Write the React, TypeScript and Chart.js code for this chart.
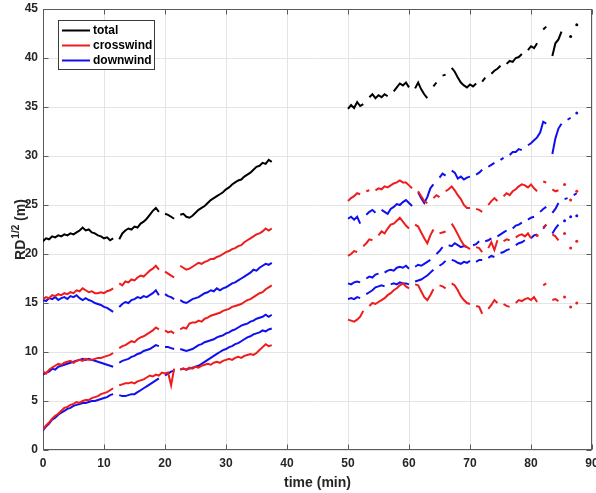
import React, { useEffect, useRef } from 'react';
import { Chart, registerables } from 'chart.js';

Chart.register(...registerables);

const FONT = '"Liberation Sans", Arial, Helvetica, sans-serif';

const xTicks = [0, 10, 20, 30, 40, 50, 60, 70, 80, 90];
const yTicks = [0, 5, 10, 15, 20, 25, 30, 35, 40, 45];
const legendLabels = ['total', 'crosswind', 'downwind'];
const xTitle = 'time (min)';

const timeLeft = [0,0.5,1,1.5,2,2.5,3,3.5,4,4.5,5,5.5,6,6.5,7,7.5,8,8.5,9,9.5,10,10.5,11,11.5,12,12.5,13,13.5,14,14.5,15,15.5,16,16.5,17,17.5,18,18.5,19,19.5,20,20.5,21,21.5,22,22.5,23,23.5,24,24.5,25,25.5,26,26.5,27,27.5,28,28.5,29,29.5,30,30.5,31,31.5,32,32.5,33,33.5,34,34.5,35,35.5,36,36.5,37,37.5];
const timeRight = [50,50.5,51,51.5,52,52.5,53,53.5,54,54.5,55,55.5,56,56.5,57,57.5,58,58.5,59,59.5,60,60.5,61,61.5,62,62.5,63,63.5,64,64.5,65,65.5,66,66.5,67,67.5,68,68.5,69,69.5,70,70.5,71,71.5,72,72.5,73,73.5,74,74.5,75,75.5,76,76.5,77,77.5,78,78.5,79,79.5,80,80.5,81,81.5,82,82.5,83,83.5,84,84.5,85,85.5,86,86.5,87,87.5];
const gapTime = 44;

// total (black)
const totalLeft = [
  21.3, 21.6, 21.5, 21.8, 21.7, 21.9, 21.8, 22.0, 21.9, 22.1,
  22.0, 22.2, 22.4, 22.7, 22.4, 22.5, 22.2, 22.1, 21.9, 21.8,
  21.6, 21.7, 21.4, 21.6, null, 21.5, 22.1, 22.4, 22.6, 22.5,
  22.8, 22.7, 23.1, 23.3, 23.6, 24.0, 24.4, 24.7, 24.3, null,
  24.1, 24.0, 23.8, 23.6, null, 24.0, 24.1, 23.8, 23.7, 23.9,
  24.2, 24.5, 24.7, 24.9, 25.2, 25.5, 25.7, 25.9, 26.1, 26.3,
  26.6, 26.8, 27.1, 27.3, 27.5, 27.6, 27.9, 28.1, 28.3, 28.6,
  28.9, 29.0, 29.3, 29.2, 29.6, 29.4,
];
const totalRight = [
  34.8, 35.2, 34.9, 35.5, 35.1, 35.3, null, 36.0, 36.3, 35.9,
  36.2, 36.0, 36.3, 36.1, null, 36.6, 37.0, 37.4, 37.2, 37.5,
  37.0, null, 36.9, 37.5, 36.8, 36.3, 35.9, null, 37.1, 37.5,
  null, 38.2, 38.3, null, 39.0, 38.6, 38.0, 37.5, 37.2, 37.0,
  37.3, 37.1, 37.4, null, 37.6, 38.0, null, 38.4, 38.7, 38.9,
  39.2, null, 39.4, 39.7, 39.6, 40.0, 40.1, 40.4, null, 40.8,
  41.2, 41.0, 41.5, null, 42.9, 43.2, null, 40.2, 41.5, 41.9,
  42.7, null, null, 42.2, null, 43.4,
];

// crosswind (red) – three runs
const cross1Left = [
  15.4, 15.6, 15.5, 15.8, 15.7, 15.9, 15.8, 16.0, 15.9, 16.1,
  16.0, 16.3, 16.2, 16.5, 16.3, 16.1, 16.2, 16.0, 16.0, 16.1,
  16.0, 16.2, 16.3, 16.5, null, 17.0, 16.8, 17.2, 17.1, 17.4,
  17.3, 17.6, 17.8, 17.7, 18.0, 18.3, 18.5, 18.8, 18.4, null,
  18.2, 18.0, 17.8, 17.6, null, 18.8, 18.6, 18.4, 18.5, 18.7,
  18.9, 19.1, 19.0, 19.2, 19.3, 19.5, 19.5, 19.7, 19.8, 20.0,
  20.2, 20.3, 20.5, 20.6, 20.8, 20.9, 21.2, 21.4, 21.6, 21.8,
  22.0, 22.1, 22.3, 22.6, 22.4, 22.6,
];
const cross1Right = [
  25.4, 25.7, 25.9, 26.2, 26.1, null, 26.4, 26.5, null, 26.5,
  26.7, 26.6, 26.9, 26.8, 27.0, 27.2, 27.3, 27.5, 27.3, 27.3,
  27.0, 26.7, null, 26.4, 25.9, 25.4, 25.2, null, 25.7, 26.0,
  25.8, null, 26.4, 26.6, 26.9, 26.5, 26.0, 25.6, 25.0, 24.7,
  24.7, null, 24.6, 24.5, 24.3, null, 25.0, 25.4, 25.7, 25.4,
  null, 25.9, 26.2, 26.0, 26.4, 26.6, 26.9, 27.1, 27.0, 26.8,
  27.1, 26.7, 26.4, null, 27.4, 27.3, null, 26.6, 26.4, 26.5,
  null, 27.1, null, 25.5, null, 26.4,
];
const cross2Left = [
  8.0, 7.8, 8.2, 8.4, 8.6, 8.8, 8.7, 8.9, 9.0, 9.1,
  8.9, 9.1, 9.2, 9.1, 9.3, 9.2, 9.2, 9.3, 9.4, 9.4,
  9.5, 9.6, 9.7, 9.9, null, 10.4, 10.6, 10.7, 10.9, 11.1,
  11.0, 11.3, 11.5, 11.6, 11.8, 12.0, 12.2, 12.5, 12.3, null,
  12.2, 12.0, 12.1, 11.9, null, 12.3, 12.5, 12.4, 12.9, 13.0,
  13.0, 13.2, 13.1, 13.4, 13.5, 13.7, 13.8, 13.9, 14.0, 14.2,
  14.3, 14.4, 14.6, 14.7, 14.8, 14.9, 15.1, 15.3, 15.4, 15.6,
  15.8, 16.0, 16.1, 16.4, 16.6, 16.8,
];
const cross2Right = [
  19.8, 20.0, 20.3, 20.2, null, 20.8, 21.1, 21.5, 21.4, null,
  21.9, 22.3, 22.1, 22.6, 23.0, 23.1, 23.4, 23.7, 23.3, 22.9,
  22.6, null, 23.0, 22.8, 22.2, 21.6, 21.1, 21.9, 22.5, null,
  22.1, 22.2, 22.3, null, 23.1, 22.6, 22.0, 21.4, 20.9, 20.7,
  20.5, null, 20.7, 20.6, 20.2, null, 20.6, 21.2, 20.4, 21.4,
  null, 21.3, 21.5, 21.4, null, 21.7, 21.9, 22.0, 21.8, 22.1,
  21.6, null, 21.9, null, 22.7, 23.0, null, 22.0, 21.8, 21.4,
  null, 22.1, null, 20.6, null, 21.3,
];
const cross3Left = [
  2.1, 2.5, 2.8, 3.2, 3.5, 3.7, 4.0, 4.3, 4.4, 4.6,
  4.7, 4.9, 4.8, 5.0, 5.1, 5.1, 5.3, 5.4, 5.5, 5.7,
  5.8, 5.9, 6.1, 6.3, null, 6.6, 6.7, 6.8, 6.8, 6.9,
  6.8, 7.0, 7.1, 7.2, 7.4, 7.6, 7.5, 7.7, 7.6, 7.9,
  7.8, 7.9, 6.6, 8.3, null, 8.2, 8.3, 8.2, 8.4, 8.3,
  8.5, 8.4, 8.6, 8.7, 8.8, 8.7, 8.9, 9.0, 8.9, 9.1,
  9.2, 9.3, 9.2, 9.4, 9.5, 9.4, 9.6, 9.7, 9.8, 9.7,
  9.9, 10.2, 10.5, 10.8, 10.6, 10.7,
];
const cross3Right = [
  13.3, 13.2, 13.1, 13.3, 13.6, 14.2, null, 14.7, 15.0, 14.9,
  15.1, 15.3, 15.5, 15.8, 16.0, 16.3, 16.5, 16.8, 17.0, 16.7,
  16.5, null, 16.9, 16.8, 16.2, 15.6, 15.3, 15.8, 16.4, null,
  16.8, 16.7, 16.5, null, 17.0, 16.8, 16.3, 15.7, 15.3, 15.0,
  14.9, null, 14.7, 14.6, 13.9, null, 14.4, 14.8, 15.3, 15.0,
  null, 14.9, 14.7, 14.6, null, 15.0, 15.3, 15.2, 15.4, 15.5,
  15.3, 15.6, 15.1, null, 16.8, 17.0, null, 15.3, 15.4, 15.2,
  null, 15.6, null, 14.6, null, 15.0,
];

// downwind (blue) – three runs
const down1Left = [
  15.3, 15.2, 15.5, 15.4, 15.6, 15.3, 15.5, 15.6, 15.4, 15.7,
  15.6, 15.8, 15.5, 15.3, 15.5, 15.3, 15.2, 15.0, 14.9, 14.8,
  14.6, 14.5, 14.3, 14.1, null, 14.6, 14.9, 15.1, 15.0, 15.3,
  15.4, 15.6, 15.5, 15.7, 15.6, 15.8, 16.0, 16.3, 15.8, null,
  15.9, 15.7, 15.6, 15.4, null, 15.3, 15.1, 15.0, 15.2, 15.4,
  15.5, 15.6, 15.8, 16.0, 16.1, 16.3, 16.2, 16.5, 16.3, 16.5,
  16.6, 16.8, 17.0, 17.1, 17.3, 17.5, 17.7, 17.9, 18.1, 18.4,
  18.3, 18.6, 18.8, 19.0, 18.9, 19.1,
];
const down1Right = [
  23.6, 23.8, 23.5, 23.8, 23.1, null, 24.0, 24.3, 24.5, 24.2,
  null, 24.5, 24.3, 24.1, 24.6, 24.8, 25.1, 25.0, 25.3, 25.5,
  25.2, 24.9, null, 26.3, 25.7, 25.2, 25.8, 26.7, 27.1, null,
  27.8, 28.2, 28.0, null, 28.5, 28.3, 27.7, 27.9, 27.6, 27.8,
  27.9, null, 28.1, 28.3, 28.6, null, 28.9, 29.1, 29.3, null,
  29.6, 29.8, null, 30.1, 30.4, 30.4, 30.7, 30.6, null, 31.1,
  31.3, 31.6, 31.9, 32.4, 33.5, 33.3, null, 30.2, 31.8, 32.8,
  33.3, null, 33.7, 33.9, null, 34.4,
];
const down2Left = [
  7.7, 7.9, 8.0, 8.3, 8.2, 8.5, 8.6, 8.7, 8.8, 8.9,
  9.0, 9.1, 9.2, 9.3, 9.2, 9.3, 9.2, 9.1, 9.0, 8.9,
  8.8, 8.7, 8.6, 8.5, null, 8.9, 9.1, 9.2, 9.3, 9.5,
  9.6, 9.8, 9.9, 10.1, 10.2, 10.3, 10.5, 10.7, 10.6, null,
  10.5, 10.5, 10.4, 10.3, null, 10.3, 10.2, 10.1, 10.2, 10.3,
  10.5, 10.7, 10.8, 11.0, 11.1, 11.2, 11.3, 11.5, 11.6, 11.7,
  11.9, 12.0, 12.2, 12.3, 12.5, 12.7, 12.8, 12.9, 13.1, 13.2,
  13.4, 13.5, 13.6, 13.8, 13.6, 13.8,
];
const down2Right = [
  17.0, 16.9, 17.1, 17.2, 17.1, null, 17.5, 17.7, 17.6, 17.9,
  18.0, null, 18.1, 18.3, 18.4, 18.3, 18.6, 18.7, 18.6, 18.8,
  18.5, null, 18.7, 18.9, 18.8, 19.0, 19.2, 19.4, null, 20.0,
  20.3, 20.7, null, 20.9, 20.8, 21.1, 20.9, 20.7, 20.8, 20.7,
  null, 20.9, 21.0, 21.3, null, 21.3, 21.4, 21.6, null, 21.8,
  22.0, 22.2, 22.4, null, 22.6, 22.9, 23.0, 23.2, null, 23.5,
  23.7, 23.8, null, 24.3, 24.6, 24.8, null, 24.2, 24.6, 25.2,
  null, 25.6, 25.7, null, 26.0, 26.2,
];
const down3Left = [
  2.0, 2.4, 2.7, 3.1, 3.3, 3.6, 3.8, 4.0, 4.2, 4.3,
  4.5, 4.6, 4.7, 4.8, 4.8, 4.9, 5.0, 5.0, 5.1, 5.2,
  5.3, 5.4, 5.6, 5.7, null, 5.6, 5.5, 5.5, 5.6, 5.7,
  5.7, 5.9, 6.1, 6.3, 6.5, 6.7, 6.9, 7.1, 7.3, null,
  7.6, 7.8, 8.0, 8.1, null, 8.2, 8.3, 8.2, 8.3, 8.4,
  8.5, 8.6, 8.8, 9.0, 9.2, 9.4, 9.6, 9.8, 10.0, 10.2,
  10.3, 10.5, 10.6, 10.8, 10.9, 11.1, 11.3, 11.5, 11.6, 11.8,
  11.9, 12.0, 12.2, 12.1, 12.3, 12.4,
];
const down3Right = [
  15.4, 15.5, 15.4, 15.6, 15.5, null, 15.9, 16.1, 16.3, 16.6,
  16.7, 16.8, 16.7, null, 16.9, 17.0, 16.9, 17.1, 17.0, 17.0,
  16.9, null, 17.2, 17.3, 17.4, 17.6, 17.8, 18.1, 18.4, null,
  18.8, 19.0, 19.3, null, 19.4, 19.3, 19.1, 19.0, 19.2, 19.1,
  19.3, null, 19.2, 19.4, 19.4, null, 19.6, 19.8, 19.7, null,
  20.1, 20.2, 20.4, 20.5, null, 20.9, 21.1, 21.2, 21.4, null,
  21.6, 21.9, 22.0, null, 22.6, 23.0, null, 22.1, 22.6, 23.0,
  null, 23.4, null, 23.8, null, 23.9,
];

const BLACK = '#000000';
const RED = '#ee1c1c';
const BLUE = '#1010ee';

function build(left: (number | null)[], right: (number | null)[]) {
  return [
    ...timeLeft.map((x, i) => ({ x, y: left[i] })),
    { x: gapTime, y: null },
    ...timeRight.map((x, i) => ({ x, y: right[i] })),
  ];
}

const isolatedRadius = (ctx: any) => {
  const d = ctx.dataset.data;
  const i = ctx.dataIndex;
  const p = d[i];
  if (!p || p.y == null) return 0;
  const a = d[i - 1];
  const b = d[i + 1];
  return (!a || a.y == null) && (!b || b.y == null) ? 1.5 : 0;
};

const framePlugin = {
  id: 'frame',
  beforeDatasetsDraw(chart: any) {
    const { ctx, chartArea: a, scales } = chart;
    ctx.save();
    ctx.strokeStyle = '#5a5a5a';
    ctx.lineWidth = 1;
    const L = Math.round(a.left) + 0.5;
    const R = Math.round(a.right) - 0.5;
    const T = Math.round(a.top) + 0.5;
    const B = Math.round(a.bottom) - 0.5;
    ctx.strokeRect(L, T, R - L, B - T);
    const len = 5;
    ctx.beginPath();
    xTicks.forEach((v) => {
      const x = Math.round(scales.x.getPixelForValue(v)) + 0.5;
      ctx.moveTo(x, B); ctx.lineTo(x, B - len);
      ctx.moveTo(x, T); ctx.lineTo(x, T + len);
    });
    yTicks.forEach((v) => {
      const y = Math.round(scales.y.getPixelForValue(v)) + 0.5;
      ctx.moveTo(L, y); ctx.lineTo(L + len, y);
      ctx.moveTo(R, y); ctx.lineTo(R - len, y);
    });
    ctx.stroke();
    ctx.restore();
  },
};

const overlayPlugin = {
  id: 'overlay',
  afterDraw(chart: any) {
    const { ctx, chartArea: a } = chart;
    ctx.save();
    // legend box
    const bx = 58.5, by = 20.5, bw = 96, bh = 49;
    ctx.fillStyle = '#ffffff';
    ctx.fillRect(bx, by, bw, bh);
    ctx.strokeStyle = '#3a3a3a';
    ctx.lineWidth = 1;
    ctx.strokeRect(bx, by, bw, bh);
    const colors = [BLACK, RED, BLUE];
    const rows = [30.5, 45.5, 60.5];
    ctx.font = `bold 12px ${FONT}`;
    ctx.textBaseline = 'middle';
    ctx.textAlign = 'left';
    legendLabels.forEach((label, i) => {
      ctx.strokeStyle = colors[i];
      ctx.lineWidth = 2;
      ctx.beginPath();
      ctx.moveTo(62, rows[i]);
      ctx.lineTo(90, rows[i]);
      ctx.stroke();
      ctx.fillStyle = '#000000';
      ctx.fillText(label, 93, rows[i] + 0.5);
    });
    // y-axis title with superscript
    const cy = (a.top + a.bottom) / 2;
    ctx.translate(25, cy);
    ctx.rotate(-Math.PI / 2);
    ctx.fillStyle = '#262626';
    ctx.textBaseline = 'alphabetic';
    const big = `bold 14px ${FONT}`;
    const small = `bold 10px ${FONT}`;
    ctx.font = big;
    const w1 = ctx.measureText('RD').width;
    const w3 = ctx.measureText(' (m)').width;
    ctx.font = small;
    const w2 = ctx.measureText('1/2').width;
    const total = w1 + 1 + w2 + w3;
    let x = -total / 2;
    ctx.font = big;
    ctx.fillText('RD', x, 0);
    x += w1 + 1;
    ctx.font = small;
    ctx.fillText('1/2', x, -6);
    x += w2;
    ctx.font = big;
    ctx.fillText(' (m)', x, 0);
    ctx.restore();
  },
};

export default function App() {
  const ref = useRef<HTMLCanvasElement | null>(null);

  useEffect(() => {
    if (!ref.current) return;
    const series = [
      { data: build(totalLeft, totalRight), color: BLACK },
      { data: build(cross1Left, cross1Right), color: RED },
      { data: build(cross2Left, cross2Right), color: RED },
      { data: build(cross3Left, cross3Right), color: RED },
      { data: build(down1Left, down1Right), color: BLUE },
      { data: build(down2Left, down2Right), color: BLUE },
      { data: build(down3Left, down3Right), color: BLUE },
    ];
    const tickFont = { family: FONT, size: 12, weight: 'bold' as const };
    const chart = new Chart(ref.current, {
      type: 'line',
      data: {
        datasets: series.map((s) => ({
          data: s.data as any,
          borderColor: s.color,
          backgroundColor: s.color,
          borderWidth: 2,
          pointRadius: isolatedRadius,
          pointBorderWidth: 0,
          pointHoverRadius: 0,
          tension: 0,
          spanGaps: false,
          fill: false,
        })),
      },
      options: {
        animation: false,
        responsive: true,
        maintainAspectRatio: false,
        events: [],
        layout: { padding: { left: 0, top: 9, right: 4, bottom: 0 } },
        plugins: { legend: { display: false }, tooltip: { enabled: false } },
        scales: {
          x: {
            type: 'linear',
            min: 0,
            max: 90,
            afterBuildTicks: (s: any) => { s.ticks = xTicks.map((v) => ({ value: v })); },
            afterFit: (s: any) => { s.height = 43; s.paddingLeft = 0; s.paddingRight = 0; },
            ticks: { font: tickFont, color: '#262626', padding: 6, maxRotation: 0 },
            grid: { color: '#e4e4e4', drawTicks: false },
            border: { display: false },
            title: {
              display: true,
              text: xTitle,
              color: '#262626',
              font: { family: FONT, size: 14, weight: 'bold' },
              padding: { top: 0, bottom: 1 },
            },
          },
          y: {
            type: 'linear',
            min: 0,
            max: 45,
            afterBuildTicks: (s: any) => { s.ticks = yTicks.map((v) => ({ value: v })); },
            afterFit: (s: any) => { s.width = 43; s.paddingTop = 0; s.paddingBottom = 0; },
            ticks: { font: tickFont, color: '#262626', padding: 5 },
            grid: { color: '#e4e4e4', drawTicks: false },
            border: { display: false },
          },
        },
      },
      plugins: [framePlugin, overlayPlugin],
    });
    return () => chart.destroy();
  }, []);

  return (
    <div style={{ position: 'absolute', left: 0, top: 0, width: 596, height: 493, background: '#ffffff' }}>
      <canvas ref={ref} />
    </div>
  );
}
